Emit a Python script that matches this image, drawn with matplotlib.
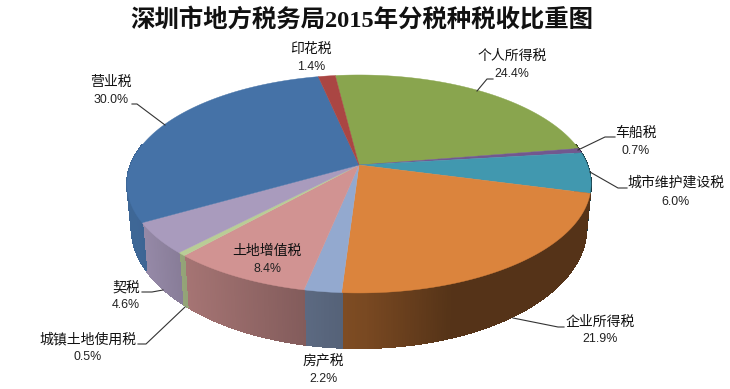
import numpy as np
import matplotlib
matplotlib.use("Agg")
import matplotlib.pyplot as plt

plt.rcParams['font.family'] = ['Noto Sans CJK SC', 'DejaVu Sans']

title = '深圳市地方税务局2015年分税种税收比重图'
categories = ['个人所得税', '车船税', '城市维护建设税', '企业所得税', '房产税',
              '土地增值税', '城镇土地使用税', '契税', '营业税', '印花税']
shares = [24.4, 0.7, 6.0, 21.9, 2.2, 8.4, 0.5, 4.6, 30.0, 1.4]
colors = ['#89A54E', '#71588F', '#4198AF', '#DB843D', '#93A9CF',
          '#D19392', '#B9CD96', '#A99BBD', '#4572A7', '#AA4643']

# label centres in pixels: x, name y, percent y, px of leader polyline
label_layout = {
    '个人所得税': (512, 56, 74, [(493, 79), (487, 79), (477, 91)]),
    '车船税': (636, 133, 151, [(615, 137), (605, 137), (578, 150)]),
    '城市维护建设税': (676, 183, 202, [(627, 188), (618, 188), (590, 172)]),
    '企业所得税': (600, 322, 339, [(564, 327), (558, 327), (513, 318)]),
    '房产税': (323, 361, 379, None),
    '土地增值税': (267, 251, 269, None),
    '城镇土地使用税': (88, 339, 357, [(138, 344), (146, 344), (185, 307)]),
    '契税': (126, 288, 305, [(142, 292), (152, 292), (163, 290)]),
    '营业税': (111, 82, 100, [(132, 104), (137, 104), (165, 125)]),
    '印花税': (311, 49, 67, None),
}

fig = plt.figure(figsize=(7.30, 3.89), dpi=100, facecolor='white')
ax = fig.add_axes([0, 0, 1, 1])
ax.set_xlim(0, 730)
ax.set_ylim(389, 0)
ax.axis('off')

START = -7.0
K = 0.174


def top_rim(theta):
    X, Y = np.sin(theta), np.cos(theta)
    den = 1 + K * Y
    return 359 + 228.5 * X / den, 165 - 105.7 * Y / den


def bottom_rim(theta):
    X, Y = np.sin(theta), np.cos(theta)
    den = 1 + K * Y
    return 359 + 224 * X / den, 207 - 116.6 * Y / den


def shade(x):
    return np.interp(x, [135, 185, 300, 365, 450, 590],
                     [0.90, 0.79, 0.63, 0.55, 0.39, 0.39])


vals = np.array(shares, dtype=float)
edges = np.radians(START + 360 * np.concatenate([[0], np.cumsum(vals)]) / vals.sum())

# sides: an antialiased base for a clean silhouette, then hard-edged gradient strips
for i, c in enumerate(colors):
    a0, a1 = edges[i], edges[i + 1]
    t = np.linspace(a0, a1, max(3, int(np.degrees(a1 - a0) * 2)))
    t = t[np.cos(t) < 0.2]
    if len(t) < 2:
        continue
    rgb = np.array(matplotlib.colors.to_rgb(c))
    xt, yt = top_rim(t)
    xb, yb = bottom_rim(t)
    base = np.clip(rgb * shade(xt.mean()), 0, 1)
    ax.fill(np.r_[xt, xb[::-1]], np.r_[yt, yb[::-1]], color=base, lw=0.3, zorder=2)
    for j in range(len(t) - 1):
        col = np.clip(rgb * shade((xt[j] + xt[j + 1]) / 2), 0, 1)
        ax.fill([xt[j], xt[j + 1], xb[j + 1], xb[j]],
                [yt[j], yt[j + 1], yb[j + 1], yb[j]],
                facecolor=col, edgecolor=col, lw=0.6, antialiased=False, zorder=2.1)

# top face
for i, c in enumerate(colors):
    t = np.linspace(edges[i], edges[i + 1], 120)
    x, y = top_rim(t)
    ax.fill(np.r_[359, x], np.r_[165, y], color=c, lw=0.3, zorder=3)

# labels
for name, v in zip(categories, shares):
    lx, ny, py, leader = label_layout[name]
    ax.text(lx, ny, name, ha='center', va='center', fontsize=10, color='#111111', zorder=5)
    ax.text(lx, py, f'{v:.1f}%', ha='center', va='center', fontsize=8.9, color='#222222',
            family=['Liberation Sans'], zorder=5)
    if leader:
        ax.plot(*zip(*leader), color='#333333', lw=0.8, zorder=4)

ax.text(362, 20, title, ha='center', va='center', fontsize=17.6, fontweight='bold',
        color='#111111', family=['Liberation Serif', 'Noto Sans CJK SC'])

fig.savefig('out.png', dpi=100, facecolor='white')
